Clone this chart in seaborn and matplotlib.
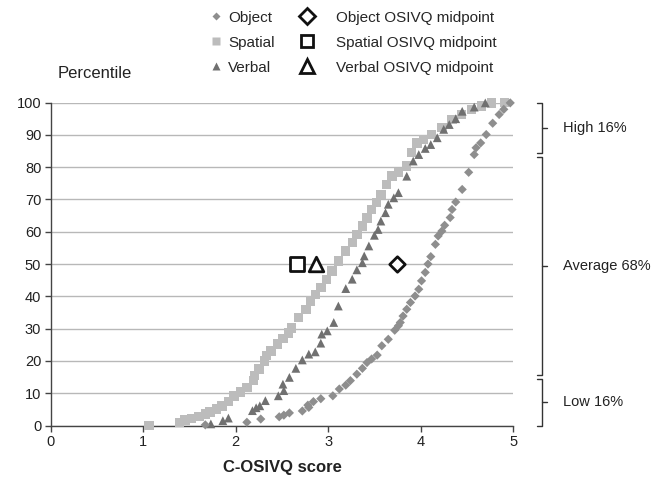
import matplotlib
matplotlib.use("Agg")
import matplotlib.pyplot as plt
from matplotlib.lines import Line2D
import seaborn as sns
import pandas as pd

# ---------------- data ----------------
object_x = [1.67, 2.12, 2.27, 2.47, 2.52, 2.58, 2.72, 2.79, 2.78, 2.84, 2.92, 3.05, 3.12,
            3.19, 3.24, 3.31, 3.37, 3.42, 3.47, 3.53, 3.58, 3.65, 3.72, 3.76, 3.78, 3.81,
            3.85, 3.89, 3.94, 3.98, 4.01, 4.05, 4.08, 4.11, 4.16, 4.19, 4.23, 4.26, 4.32,
            4.34, 4.38, 4.45, 4.52, 4.58, 4.60, 4.65, 4.71, 4.78, 4.85, 4.90, 4.97]
object_y = [0.2, 1.0, 2.0, 2.7, 3.2, 3.9, 4.5, 5.6, 6.3, 7.4, 8.3, 9.2, 11.3,
            12.5, 13.9, 15.9, 17.7, 19.5, 20.6, 21.8, 24.7, 26.7, 29.5, 30.9, 31.9, 33.9,
            36.0, 38.1, 40.1, 42.2, 44.8, 47.4, 50.0, 52.3, 56.1, 58.7, 60.2, 62.0, 64.4,
            66.9, 69.2, 73.1, 78.4, 83.9, 86.0, 87.5, 90.1, 93.6, 96.3, 97.9, 99.9]

spatial_x = [1.06, 1.39, 1.45, 1.52, 1.60, 1.67, 1.72, 1.79, 1.85, 1.92, 1.98, 2.05, 2.12,
             2.19, 2.20, 2.25, 2.31, 2.33, 2.38, 2.45, 2.51, 2.57, 2.60, 2.68, 2.76, 2.81,
             2.86, 2.92, 2.98, 3.04, 3.11, 3.19, 3.26, 3.31, 3.37, 3.42, 3.47, 3.52, 3.57,
             3.63, 3.69, 3.76, 3.85, 3.90, 3.96, 4.03, 4.12, 4.23, 4.34, 4.44, 4.55, 4.66,
             4.77, 4.91]
spatial_y = [0.0, 1.0, 1.7, 2.2, 2.8, 3.5, 4.2, 5.1, 6.1, 7.4, 9.2, 10.4, 11.8,
             13.9, 15.4, 17.5, 20.0, 21.6, 23.1, 25.2, 27.0, 28.6, 30.2, 33.4, 36.0, 38.6,
             40.6, 42.7, 45.3, 47.9, 50.9, 54.0, 56.6, 59.2, 61.8, 64.3, 66.9, 69.0, 71.6,
             74.6, 77.2, 78.3, 80.3, 84.5, 87.5, 88.6, 90.1, 92.2, 94.7, 96.3, 97.8, 98.9,
             99.9, 100.0]

verbal_x = [1.73, 1.86, 1.92, 2.18, 2.22, 2.26, 2.32, 2.46, 2.52, 2.51, 2.58, 2.65, 2.72,
            2.79, 2.86, 2.92, 2.93, 2.99, 3.06, 3.11, 3.19, 3.26, 3.31, 3.37, 3.39, 3.44,
            3.50, 3.54, 3.57, 3.62, 3.65, 3.71, 3.76, 3.85, 3.92, 3.98, 4.05, 4.11, 4.18,
            4.25, 4.31, 4.38, 4.45, 4.58, 4.70]
verbal_y = [0.5, 1.5, 2.3, 4.6, 5.5, 6.1, 7.7, 9.2, 10.8, 12.8, 14.9, 17.7, 20.3,
            22.1, 22.8, 25.5, 28.3, 29.3, 31.9, 37.0, 42.4, 45.3, 48.2, 50.4, 52.5, 55.6,
            58.9, 60.7, 63.3, 65.9, 68.5, 70.5, 72.1, 77.2, 81.9, 83.9, 85.8, 87.0, 89.1,
            91.7, 93.2, 95.0, 97.3, 98.6, 99.9]

midpoint_labels = ["Object OSIVQ midpoint", "Spatial OSIVQ midpoint", "Verbal OSIVQ midpoint"]
midpoint_x = [3.74, 2.66, 2.87]
midpoint_y = [50, 50, 50]

band_labels = ["High 16%", "Average 68%", "Low 16%"]
band_top = [100, 83.3, 14.4]
band_bottom = [84.5, 15.6, 0]

x_ticks = [0, 1, 2, 3, 4, 5]
y_ticks = [0, 10, 20, 30, 40, 50, 60, 70, 80, 90, 100]

# ---------------- style ----------------
sns.set_style("white")
plt.rcParams["font.family"] = ["Liberation Sans", "DejaVu Sans"]

col_obj = "#8e8e8e"
col_spa = "#bcbcbc"
col_ver = "#707070"

fig = plt.figure(figsize=(6.7, 4.82), dpi=100)
ax = fig.add_axes([0.0761, 0.1172, 0.6896, 0.670])

df_obj = pd.DataFrame({"x": object_x, "y": object_y})
df_spa = pd.DataFrame({"x": spatial_x, "y": spatial_y})
df_ver = pd.DataFrame({"x": verbal_x, "y": verbal_y})

sns.scatterplot(data=df_spa, x="x", y="y", marker="s", s=46, color=col_spa,
                edgecolor="none", ax=ax, zorder=3, clip_on=False)
sns.scatterplot(data=df_ver, x="x", y="y", marker="^", s=40, color=col_ver,
                edgecolor="none", ax=ax, zorder=4, clip_on=False)
sns.scatterplot(data=df_obj, x="x", y="y", marker="D", s=22, color=col_obj,
                edgecolor="none", ax=ax, zorder=5, clip_on=False)

mid_markers = ["D", "s", "^"]
mid_sizes = [62, 90, 110]
for mx, my, mm, ms in zip(midpoint_x, midpoint_y, mid_markers, mid_sizes):
    ax.scatter([mx], [my], marker=mm, s=ms, facecolor="white", edgecolor="#111111",
               linewidths=2.0, zorder=6)

ax.set_xlim(0, 5)
ax.set_ylim(0, 100)
ax.set_xticks(x_ticks)
ax.set_yticks(y_ticks)
ax.yaxis.grid(True, color="#b8b8b8", linewidth=1.0)
ax.xaxis.grid(False)
ax.set_axisbelow(True)
for s in ["top", "right"]:
    ax.spines[s].set_visible(False)
for s in ["left", "bottom"]:
    ax.spines[s].set_color("#444444")
    ax.spines[s].set_linewidth(1.0)
ax.tick_params(axis="both", which="major", direction="out", length=4, width=1,
               color="#444444", labelsize=10.5, labelcolor="#222222", pad=3,
               bottom=True, left=True)
ax.set_xlabel("C-OSIVQ score", fontsize=12, fontweight="bold", color="#222222", labelpad=8)
ax.set_ylabel("")

fig.text(95 / 670, 1 - 74 / 482, "Percentile", fontsize=12, ha="center", va="center",
         color="#222222")

# legends
h1 = [Line2D([], [], linestyle="none", marker="D", markersize=4.2, color=col_obj, markeredgecolor="none"),
      Line2D([], [], linestyle="none", marker="s", markersize=6, color=col_spa, markeredgecolor="none"),
      Line2D([], [], linestyle="none", marker="^", markersize=5.5, color=col_ver, markeredgecolor="none")]
leg1 = ax.legend(h1, ["Object", "Spatial", "Verbal"], loc="upper left",
                 bbox_to_anchor=(0.345, 1.285), frameon=False, fontsize=11,
                 handlelength=0.8, handletextpad=0.35, labelspacing=0.72, borderpad=0,
                 borderaxespad=0)
ax.add_artist(leg1)
h2 = [Line2D([], [], linestyle="none", marker="D", markersize=8, markerfacecolor="white",
             markeredgecolor="#111111", markeredgewidth=2.0),
      Line2D([], [], linestyle="none", marker="s", markersize=8.5, markerfacecolor="white",
             markeredgecolor="#111111", markeredgewidth=2.0),
      Line2D([], [], linestyle="none", marker="^", markersize=9.5, markerfacecolor="white",
             markeredgecolor="#111111", markeredgewidth=2.0)]
leg2 = ax.legend(h2, midpoint_labels, loc="upper left",
                 bbox_to_anchor=(0.528, 1.285), frameon=False, fontsize=11,
                 handlelength=1.6, handletextpad=1.1, labelspacing=0.72, borderpad=0,
                 borderaxespad=0)

# right-hand brackets
trans = ax.get_yaxis_transform()
bx = 1.062
cap = 0.011
for lab, top, bot in zip(band_labels, band_top, band_bottom):
    ax.plot([bx - cap, bx, bx, bx - cap], [top, top, bot, bot], color="#333333",
            linewidth=1.0, transform=trans, clip_on=False)
    mid = (top + bot) / 2
    ax.plot([bx, bx + cap], [mid, mid], color="#333333", linewidth=1.0,
            transform=trans, clip_on=False)
    ax.text(1.108, mid, lab, transform=trans, fontsize=10.5, va="center", ha="left",
            color="#222222")

fig.savefig("out.png", dpi=100)
